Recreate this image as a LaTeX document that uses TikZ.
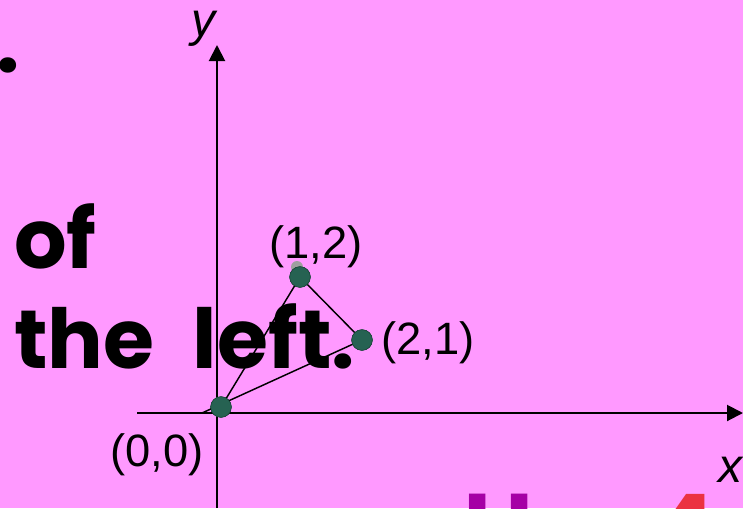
\documentclass[tikz,border=0pt]{standalone}
\usepackage{fontspec}
\setmainfont{Liberation Sans}
\newfontfamily\handfont[WordSpace=2.2]{Poppins}
\usetikzlibrary{arrows.meta}
\definecolor{slidepink}{RGB}{255,153,255}
\definecolor{dotgreen}{RGB}{38,98,82}
\definecolor{hpurple}{RGB}{165,0,165}
\definecolor{fourred}{RGB}{235,50,65}

\begin{document}
\begin{tikzpicture}[
    x=0.75pt, y=-0.75pt,
    pt/.style={circle, fill=dotgreen, draw=dotgreen!70!black, minimum size=15.5pt, inner sep=0pt},
    lbl/.style={font=\fontsize{34}{40}\selectfont, inner sep=0pt},
    axlbl/.style={font=\itshape\fontsize{36}{40}\selectfont, inner sep=0pt},
    big/.style={font=\handfont\bfseries\fontsize{62}{70}\selectfont, inner sep=0pt},
    part/.style={font=\handfont\bfseries\fontsize{72}{80}\selectfont, inner sep=0pt, anchor=north},
    axis/.style={line width=1.5pt, -{Triangle[length=12pt,width=12pt]}}
  ]
  \fill[slidepink] (0,0) rectangle (743,508);
  \useasboundingbox (0,0) rectangle (743,508);
  \clip (0,0) rectangle (743,508);

  % axes
  \coordinate (xs) at (137,413);
  \coordinate (xe) at (743,413);
  \coordinate (ys) at (217,508);
  \coordinate (ye) at (217,45);
  \draw[axis] (xs) -- (xe);
  \draw[axis] (ys) -- (ye);
  \node[axlbl] (ylab) at (203,29) {y};
  \node[axlbl] (xlab) at (730,470) {x};

  % text of the slide
  \node[big] (dot) at (8,65) {.};
  \node[big, anchor=base west] (of) at (14,268) {of};
  \node[big, anchor=base west] (left) at (14,368) {the left.};
  \node[part, text=hpurple] (hh) at (499,494) {H};
  \node[part, text=fourred] (four) at (684,494) {4};

  % triangle
  \coordinate (base) at (202,413);
  \node[circle, fill=gray!75, minimum size=9pt, inner sep=0pt] (shade) at (297,267) {};
  \node[pt] (p00) at (221,407) {};
  \node[pt] (p12) at (300,277) {};
  \node[pt] (p21) at (362,340) {};
  \draw[line width=1.1pt] (base) -- (p21.center);
  \draw[line width=1.1pt] (p00.center) -- (p12.center) -- (p21.center);
  \node[pt] at (p00) {};
  \node[pt] at (p12) {};
  \node[pt] at (p21) {};
  \node[lbl] (l12) at (316,247) {(1,2)};
  \node[lbl] (l21) at (428,343) {(2,1)};
  \node[lbl] (l00) at (157,455) {(0,0)};
\end{tikzpicture}
\end{document}
